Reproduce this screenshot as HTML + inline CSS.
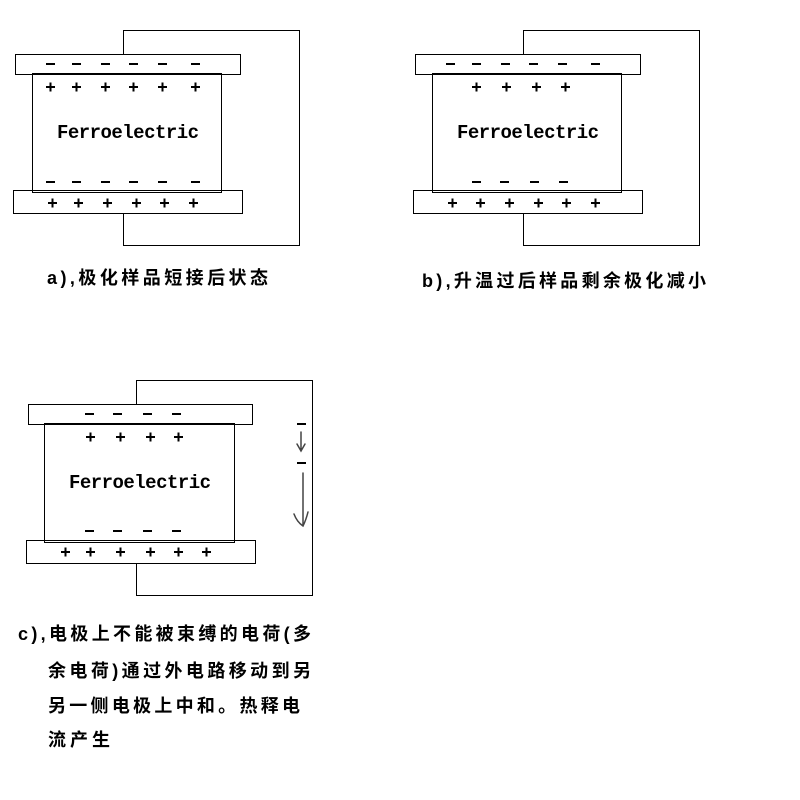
<!DOCTYPE html>
<html><head><meta charset="utf-8"><style>
html,body{margin:0;padding:0;background:#fff;}
svg{display:block;}
.t{font-family:"Liberation Mono",monospace;font-size:19px;font-weight:bold;}
.c{font-family:"Liberation Sans","Noto Sans CJK SC",sans-serif;font-size:18px;font-weight:bold;}
</style></head><body>
<svg width="800" height="800" viewBox="0 0 800 800" xmlns="http://www.w3.org/2000/svg">
<g fill="none" stroke="#000" stroke-width="1">
<path d="M123.5 54V30.5H299.5V245.5H123.5V213"/>
<rect x="15.5" y="54.5" width="225" height="20"/>
<rect x="32.5" y="73.5" width="189" height="119"/>
<rect x="13.5" y="190.5" width="229" height="23"/>
<path d="M523.5 54V30.5H699.5V245.5H523.5V213"/>
<rect x="415.5" y="54.5" width="225" height="20"/>
<rect x="432.5" y="73.5" width="189" height="119"/>
<rect x="413.5" y="190.5" width="229" height="23"/>
<path d="M136.5 404V380.5H312.5V595.5H136.5V563"/>
<rect x="28.5" y="404.5" width="224" height="20"/>
<rect x="44.5" y="423.5" width="190" height="119"/>
<rect x="26.5" y="540.5" width="229" height="23"/>
</g>
<g stroke="#000" stroke-width="2" fill="none">
<path d="M46 64h9M72 64h9M101 64h9M129 64h9M158 64h9M191 64h9"/>
<path d="M46 87h9M72 87h9M101 87h9M129 87h9M158 87h9M191 87h9M50.5 82.5v9M76.5 82.5v9M105.5 82.5v9M133.5 82.5v9M162.5 82.5v9M195.5 82.5v9"/>
<path d="M46 182h9M72 182h9M101 182h9M129 182h9M158 182h9M191 182h9"/>
<path d="M48 203h9M74 203h9M103 203h9M132 203h9M160 203h9M189 203h9M52.5 198.5v9M78.5 198.5v9M107.5 198.5v9M136.5 198.5v9M164.5 198.5v9M193.5 198.5v9"/>
<path d="M446 64h9M472 64h9M501 64h9M529 64h9M558 64h9M591 64h9"/>
<path d="M472 87h9M502 87h9M532 87h9M561 87h9M476.5 82.5v9M506.5 82.5v9M536.5 82.5v9M565.5 82.5v9"/>
<path d="M472 182h9M500 182h9M530 182h9M559 182h9"/>
<path d="M448 203h9M476 203h9M505 203h9M534 203h9M562 203h9M591 203h9M452.5 198.5v9M480.5 198.5v9M509.5 198.5v9M538.5 198.5v9M566.5 198.5v9M595.5 198.5v9"/>
<path d="M85 414h9M113 414h9M143 414h9M172 414h9"/>
<path d="M86 437h9M116 437h9M146 437h9M174 437h9M90.5 432.5v9M120.5 432.5v9M150.5 432.5v9M178.5 432.5v9"/>
<path d="M85 531h9M113 531h9M143 531h9M172 531h9"/>
<path d="M61 552h9M86 552h9M116 552h9M146 552h9M174 552h9M202 552h9M65.5 547.5v9M90.5 547.5v9M120.5 547.5v9M150.5 547.5v9M178.5 547.5v9M206.5 547.5v9"/>
<path d="M297 424h9M297 463h9"/>
</g>
<g stroke="#444" stroke-width="1.5" fill="none" stroke-linecap="round">
<path d="M301 432v18M297 444l4 7l4-7"/>
<path d="M303 473v52M294 514q3 8 9 12q3-6 5-14"/>
</g>
<text class="t" x="57" y="138" textLength="142">Ferroelectric</text>
<text class="t" x="457" y="138" textLength="142">Ferroelectric</text>
<text class="t" x="69" y="488" textLength="142">Ferroelectric</text>
<text class="c" x="47" y="284" textLength="221">a),极化样品短接后状态</text>
<text class="c" x="422" y="287" textLength="284">b),升温过后样品剩余极化减小</text>
<text class="c" x="18" y="640" textLength="293">c),电极上不能被束缚的电荷(多</text>
<text class="c" x="48" y="677" textLength="263">余电荷)通过外电路移动到另</text>
<text class="c" x="48" y="712" textLength="252">另一侧电极上中和。热释电</text>
<text class="c" x="48" y="746" textLength="62">流产生</text>
</svg>
</body></html>
